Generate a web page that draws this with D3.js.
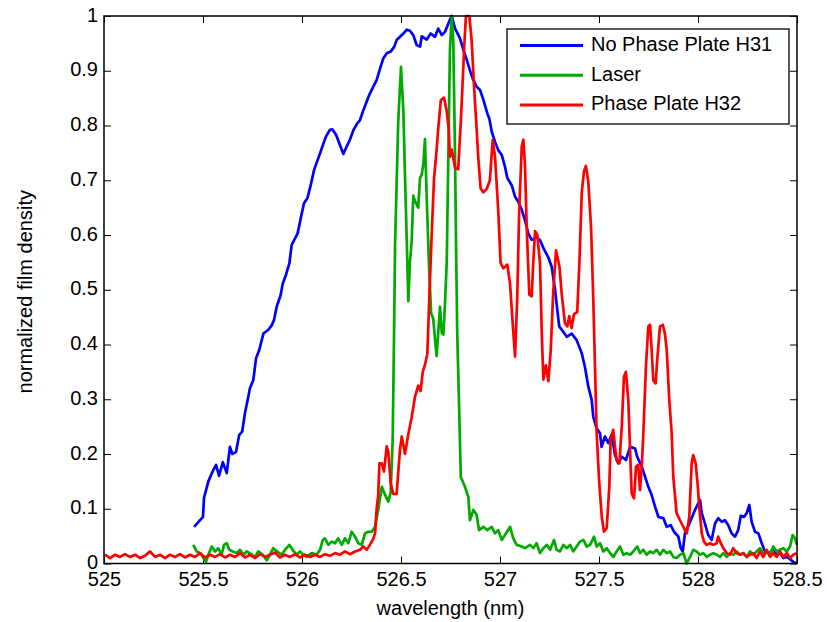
<!DOCTYPE html>
<html>
<head>
<meta charset="utf-8">
<script src="https://cdn.jsdelivr.net/npm/d3@7"></script>
<style>
	body { margin: 0; background: #fff; }
	svg { display: block; }
	.tick line { stroke: #000; stroke-width: 1; }
	.tick text { font-family: "Liberation Sans", Arial, Helvetica, sans-serif; font-size: 20px; fill: #000; }
	.domain { display: none; }
	.label, .legend text { font-family: "Liberation Sans", Arial, Helvetica, sans-serif; font-size: 20px; fill: #000; }
</style>
</head>
<body>
<div id="chart"></div>
<script>

var seriesNames = ['No Phase Plate H31', 'Laser', 'Phase Plate H32'];
var seriesColors = ['#0000ff', '#00aa00', '#ff0000'];

var xTicks = [525, 525.5, 526, 526.5, 527, 527.5, 528, 528.5];
var yTicks = [0, 0.1, 0.2, 0.3, 0.4, 0.5, 0.6, 0.7, 0.8, 0.9, 1];

// [wavelength (nm), normalized film density]
var noPlateH31 = [
	[525.455,0.067],[525.475,0.075],[525.5,0.085],[525.505,0.12],[525.527,0.15],[525.551,0.17],[525.566,0.18],[525.581,0.16],
	[525.6,0.185],[525.62,0.165],[525.636,0.213],[525.648,0.2],[525.667,0.204],[525.683,0.235],[525.698,0.241],[525.712,0.275],
	[525.729,0.305],[525.737,0.32],[525.754,0.335],[525.768,0.375],[525.784,0.39],[525.805,0.42],[525.83,0.427],[525.847,0.435],
	[525.859,0.445],[525.872,0.469],[525.892,0.49],[525.903,0.512],[525.919,0.527],[525.936,0.548],[525.948,0.582],[525.965,0.594],
	[525.978,0.603],[525.995,0.633],[526.01,0.658],[526.027,0.667],[526.044,0.691],[526.061,0.719],[526.082,0.74],[526.094,0.752],
	[526.108,0.767],[526.121,0.78],[526.141,0.792],[526.153,0.793],[526.172,0.783],[526.195,0.761],[526.209,0.748],[526.226,0.762],
	[526.242,0.774],[526.259,0.791],[526.279,0.804],[526.293,0.81],[526.31,0.828],[526.323,0.84],[526.34,0.856],[526.36,0.871],
	[526.377,0.883],[526.394,0.904],[526.411,0.923],[526.428,0.932],[526.448,0.935],[526.466,0.944],[526.478,0.956],[526.495,0.962],
	[526.512,0.968],[526.529,0.975],[526.545,0.973],[526.562,0.965],[526.579,0.947],[526.596,0.944],[526.605,0.963],[526.63,0.957],
	[526.65,0.968],[526.672,0.962],[526.688,0.977],[526.706,0.965],[526.722,0.971],[526.747,0.993],[526.756,1.0],[526.773,0.977],
	[526.798,0.959],[526.815,0.938],[526.832,0.92],[526.848,0.901],[526.862,0.886],[526.882,0.871],[526.899,0.865],[526.916,0.847],
	[526.936,0.822],[526.946,0.813],[526.958,0.789],[526.975,0.77],[526.991,0.755],[527.009,0.746],[527.025,0.725],[527.037,0.704],
	[527.059,0.691],[527.076,0.67],[527.092,0.661],[527.11,0.646],[527.126,0.627],[527.143,0.603],[527.16,0.591],[527.185,0.596],
	[527.202,0.591],[527.222,0.574],[527.244,0.559],[527.261,0.542],[527.278,0.5],[527.299,0.433],[527.32,0.423],[527.337,0.414],
	[527.362,0.42],[527.387,0.408],[527.413,0.384],[527.429,0.359],[527.446,0.323],[527.463,0.299],[527.471,0.268],[527.488,0.247],
	[527.505,0.238],[527.513,0.213],[527.53,0.232],[527.547,0.22],[527.564,0.235],[527.581,0.198],[527.597,0.183],[527.615,0.195],
	[527.636,0.189],[527.657,0.213],[527.682,0.21],[527.693,0.195],[527.716,0.177],[527.732,0.159],[527.749,0.14],[527.766,0.125],
	[527.783,0.104],[527.8,0.085],[527.825,0.083],[527.842,0.067],[527.862,0.07],[527.879,0.058],[527.901,0.049],[527.913,0.028],
	[527.923,0.022],[527.934,0.055],[527.96,0.076],[527.985,0.098],[528.01,0.116],[528.019,0.092],[528.035,0.073],[528.052,0.052],
	[528.069,0.043],[528.086,0.073],[528.102,0.083],[528.12,0.076],[528.136,0.079],[528.153,0.07],[528.17,0.055],[528.187,0.049],
	[528.203,0.061],[528.216,0.087],[528.232,0.085],[528.246,0.092],[528.259,0.107],[528.271,0.076],[528.288,0.058],[528.305,0.055],
	[528.322,0.037],[528.338,0.022],[528.364,0.019],[528.38,0.028],[528.397,0.016],[528.414,0.019],[528.431,0.01],[528.448,0.012],
	[528.465,0.008],[528.481,0.003],[528.498,0.0]
];

var laser = [
	[525.451,0.034],[525.468,0.022],[525.485,0.019],[525.502,0.01],[525.515,0.003],[525.527,0.016],[525.544,0.031],[525.561,0.022],
	[525.577,0.028],[525.594,0.016],[525.606,0.034],[525.62,0.037],[525.633,0.025],[525.65,0.022],[525.67,0.019],[525.687,0.025],
	[525.704,0.016],[525.721,0.022],[525.746,0.016],[525.763,0.012],[525.779,0.022],[525.802,0.016],[525.822,0.006],[525.838,0.016],
	[525.855,0.028],[525.875,0.022],[525.897,0.016],[525.914,0.025],[525.936,0.034],[525.953,0.025],[525.973,0.016],[525.99,0.022],
	[526.007,0.016],[526.024,0.012],[526.049,0.019],[526.074,0.016],[526.091,0.025],[526.105,0.043],[526.116,0.046],[526.133,0.034],
	[526.15,0.04],[526.167,0.037],[526.183,0.046],[526.201,0.034],[526.217,0.046],[526.234,0.037],[526.251,0.058],[526.268,0.049],
	[526.284,0.037],[526.302,0.034],[526.318,0.055],[526.335,0.058],[526.352,0.058],[526.369,0.067],[526.385,0.098],[526.403,0.14],
	[526.414,0.13],[526.436,0.113],[526.448,0.13],[526.458,0.228],[526.465,0.421],[526.47,0.582],[526.486,0.807],[526.5,0.907],
	[526.512,0.826],[526.52,0.711],[526.532,0.55],[526.537,0.479],[526.545,0.55],[526.554,0.588],[526.562,0.672],[526.571,0.662],
	[526.587,0.65],[526.596,0.704],[526.605,0.711],[526.613,0.73],[526.621,0.775],[526.63,0.666],[526.641,0.55],[526.652,0.457],
	[526.663,0.447],[526.672,0.408],[526.68,0.379],[526.688,0.421],[526.697,0.469],[526.706,0.421],[526.714,0.418],[526.722,0.473],
	[526.731,0.55],[526.739,0.743],[526.747,0.936],[526.756,1.0],[526.764,0.955],[526.773,0.743],[526.778,0.582],[526.784,0.421],
	[526.793,0.293],[526.802,0.158],[526.823,0.14],[526.84,0.122],[526.848,0.079],[526.865,0.098],[526.882,0.089],[526.894,0.061],
	[526.916,0.067],[526.936,0.061],[526.958,0.067],[526.975,0.055],[526.991,0.061],[527.009,0.043],[527.025,0.052],[527.051,0.067],
	[527.067,0.046],[527.084,0.034],[527.11,0.031],[527.126,0.028],[527.152,0.034],[527.168,0.028],[527.185,0.037],[527.202,0.019],
	[527.219,0.028],[527.236,0.034],[527.253,0.025],[527.273,0.043],[527.286,0.025],[527.303,0.022],[527.32,0.034],[527.337,0.028],
	[527.354,0.034],[527.37,0.022],[527.387,0.031],[527.404,0.04],[527.421,0.043],[527.438,0.031],[527.455,0.034],[527.475,0.049],
	[527.488,0.031],[527.505,0.037],[527.522,0.022],[527.539,0.028],[527.556,0.019],[527.572,0.012],[527.589,0.022],[527.606,0.031],
	[527.623,0.016],[527.64,0.019],[527.657,0.016],[527.673,0.022],[527.693,0.031],[527.707,0.019],[527.724,0.025],[527.741,0.016],
	[527.758,0.022],[527.774,0.019],[527.791,0.025],[527.808,0.016],[527.825,0.025],[527.842,0.019],[527.859,0.022],[527.875,0.012],
	[527.892,0.01],[527.909,0.016],[527.926,0.019],[527.943,0.0],[527.96,0.012],[527.976,0.025],[527.993,0.022],[528.01,0.016],
	[528.027,0.019],[528.044,0.012],[528.061,0.016],[528.077,0.019],[528.094,0.016],[528.111,0.012],[528.128,0.019],[528.145,0.012],
	[528.162,0.019],[528.178,0.016],[528.195,0.022],[528.212,0.016],[528.229,0.019],[528.246,0.012],[528.263,0.022],[528.279,0.016],
	[528.296,0.022],[528.313,0.028],[528.33,0.019],[528.347,0.022],[528.364,0.016],[528.38,0.031],[528.397,0.022],[528.414,0.025],
	[528.431,0.028],[528.448,0.022],[528.465,0.031],[528.478,0.052],[528.49,0.046],[528.5,0.034]
];

var plateH32 = [
	[525.005,0.016],[525.03,0.01],[525.056,0.016],[525.081,0.012],[525.106,0.017],[525.131,0.012],[525.157,0.016],[525.182,0.01],
	[525.207,0.014],[525.232,0.022],[525.258,0.012],[525.283,0.016],[525.308,0.01],[525.333,0.016],[525.359,0.012],[525.384,0.017],
	[525.409,0.011],[525.434,0.016],[525.46,0.012],[525.485,0.019],[525.51,0.011],[525.535,0.016],[525.561,0.012],[525.586,0.017],
	[525.611,0.011],[525.636,0.016],[525.662,0.012],[525.687,0.019],[525.712,0.011],[525.737,0.016],[525.763,0.01],[525.788,0.017],
	[525.813,0.012],[525.838,0.016],[525.864,0.02],[525.889,0.011],[525.914,0.016],[525.939,0.012],[525.965,0.017],[525.99,0.011],
	[526.015,0.016],[526.04,0.012],[526.066,0.016],[526.091,0.012],[526.116,0.017],[526.141,0.014],[526.167,0.019],[526.192,0.016],
	[526.217,0.022],[526.242,0.017],[526.268,0.022],[526.293,0.025],[526.31,0.031],[526.327,0.025],[526.343,0.034],[526.36,0.045],
	[526.369,0.055],[526.377,0.1],[526.385,0.125],[526.391,0.183],[526.403,0.183],[526.414,0.168],[526.428,0.214],[526.436,0.204],
	[526.448,0.146],[526.461,0.127],[526.478,0.127],[526.495,0.209],[526.504,0.232],[526.52,0.2],[526.537,0.236],[526.554,0.267],
	[526.571,0.305],[526.587,0.325],[526.599,0.315],[526.61,0.35],[526.621,0.363],[526.633,0.383],[526.643,0.486],[526.655,0.601],
	[526.667,0.704],[526.68,0.756],[526.688,0.794],[526.701,0.846],[526.717,0.851],[526.731,0.826],[526.741,0.794],[526.747,0.743],
	[526.756,0.756],[526.773,0.723],[526.789,0.72],[526.802,0.807],[526.812,0.884],[526.82,0.949],[526.828,1.0],[526.845,1.0],
	[526.857,0.955],[526.869,0.871],[526.882,0.794],[526.89,0.743],[526.902,0.685],[526.916,0.678],[526.933,0.684],[526.949,0.7],
	[526.963,0.774],[526.975,0.742],[526.991,0.646],[527.003,0.549],[527.017,0.539],[527.037,0.546],[527.051,0.51],[527.064,0.439],
	[527.076,0.378],[527.087,0.485],[527.097,0.646],[527.11,0.762],[527.118,0.774],[527.126,0.729],[527.135,0.613],[527.148,0.491],
	[527.16,0.488],[527.168,0.549],[527.177,0.607],[527.188,0.601],[527.202,0.549],[527.211,0.42],[527.219,0.336],[527.232,0.362],
	[527.244,0.333],[527.256,0.388],[527.269,0.497],[527.283,0.572],[527.3,0.543],[527.312,0.491],[527.328,0.439],[527.34,0.433],
	[527.35,0.452],[527.362,0.43],[527.374,0.456],[527.39,0.459],[527.401,0.549],[527.413,0.678],[527.424,0.716],[527.434,0.726],
	[527.446,0.697],[527.46,0.613],[527.471,0.485],[527.48,0.356],[527.488,0.24],[527.501,0.149],[527.514,0.085],[527.525,0.058],
	[527.539,0.065],[527.552,0.14],[527.559,0.226],[527.572,0.244],[527.581,0.213],[527.589,0.189],[527.603,0.183],[527.615,0.25],
	[527.626,0.341],[527.636,0.35],[527.648,0.299],[527.657,0.207],[527.665,0.128],[527.677,0.119],[527.687,0.177],[527.698,0.18],
	[527.707,0.134],[527.716,0.177],[527.724,0.238],[527.737,0.359],[527.749,0.433],[527.758,0.436],[527.766,0.39],[527.774,0.335],
	[527.786,0.329],[527.794,0.372],[527.808,0.433],[527.822,0.436],[527.833,0.42],[527.842,0.39],[527.855,0.299],[527.867,0.238],
	[527.875,0.159],[527.892,0.092],[527.909,0.079],[527.926,0.067],[527.943,0.055],[527.956,0.085],[527.968,0.183],[527.976,0.198],
	[527.988,0.183],[527.998,0.146],[528.006,0.104],[528.019,0.055],[528.03,0.04],[528.044,0.034],[528.061,0.037],[528.077,0.034],
	[528.094,0.037],[528.102,0.049],[528.115,0.037],[528.128,0.028],[528.145,0.019],[528.162,0.016],[528.178,0.028],[528.195,0.019],
	[528.212,0.016],[528.229,0.019],[528.246,0.012],[528.263,0.016],[528.279,0.019],[528.296,0.01],[528.313,0.022],[528.33,0.012],
	[528.347,0.025],[528.364,0.012],[528.38,0.019],[528.397,0.012],[528.414,0.022],[528.431,0.012],[528.448,0.019],[528.465,0.01],
	[528.481,0.016],[528.498,0.019]
];

var series = [noPlateH31, laser, plateH32];

var width = 827, height = 622;
var margin = {top: 16, right: 30, bottom: 58.5, left: 104};
var innerW = width - margin.left - margin.right;
var innerH = height - margin.top - margin.bottom;

var svg = d3.select('#chart').append('svg')
	.attr('width', width)
	.attr('height', height);

svg.append('rect')
	.attr('width', width)
	.attr('height', height)
	.attr('fill', '#fff');

var g = svg.append('g')
	.attr('transform', 'translate(' + margin.left + ',' + margin.top + ')');

var x = d3.scaleLinear()
	.domain([525, 528.5])
	.range([0, innerW]);

var y = d3.scaleLinear()
	.domain([0, 1])
	.range([innerH, 0]);

// inward ticks on all four sides, like a boxed plot
g.append('g')
	.attr('class', 'x axis')
	.attr('transform', 'translate(0,' + innerH + ')')
	.call(d3.axisBottom(x).tickValues(xTicks).tickSize(-7).tickPadding(8).tickFormat(d3.format('')));

g.append('g')
	.attr('class', 'x axis top')
	.call(d3.axisTop(x).tickValues(xTicks).tickSize(-7).tickFormat(''));

g.append('g')
	.attr('class', 'y axis')
	.call(d3.axisLeft(y).tickValues(yTicks).tickSize(-7).tickPadding(6).tickFormat(d3.format('')))
	.selectAll('text')
	.attr('dy', '0.25em');

g.append('g')
	.attr('class', 'y axis right')
	.attr('transform', 'translate(' + innerW + ',0)')
	.call(d3.axisRight(y).tickValues(yTicks).tickSize(-7).tickFormat(''));

var line = d3.line()
	.x(function(d) { return x(d[0]); })
	.y(function(d) { return y(d[1]); });

series.forEach(function(s, i) {
	g.append('path')
		.datum(s)
		.attr('fill', 'none')
		.attr('stroke', seriesColors[i])
		.attr('stroke-width', 2.7)
		.attr('stroke-linejoin', 'round')
		.attr('d', line);
});

// box
g.append('rect')
	.attr('width', innerW)
	.attr('height', innerH)
	.attr('fill', 'none')
	.attr('stroke', '#000')
	.attr('stroke-width', 1.5);

// axis labels
svg.append('text')
	.attr('class', 'label')
	.attr('text-anchor', 'middle')
	.attr('x', margin.left + innerW / 2)
	.attr('y', 615)
	.text('wavelength (nm)');

svg.append('text')
	.attr('class', 'label')
	.attr('text-anchor', 'middle')
	.attr('transform', 'translate(32,' + (margin.top + innerH / 2 + 2) + ') rotate(-90)')
	.text('normalized film density');

// legend
var legend = svg.append('g')
	.attr('class', 'legend')
	.attr('transform', 'translate(507,29)');

legend.append('rect')
	.attr('width', 282)
	.attr('height', 95)
	.attr('fill', '#fff')
	.attr('stroke', '#000')
	.attr('stroke-width', 1.3);

seriesNames.forEach(function(name, i) {
	var ly = 16.5 + i * 29.7;
	legend.append('line')
		.attr('x1', 13)
		.attr('x2', 76)
		.attr('y1', ly)
		.attr('y2', ly)
		.attr('stroke', seriesColors[i])
		.attr('stroke-width', 3);
	legend.append('text')
		.attr('x', 84)
		.attr('y', ly + 5.5)
		.text(name);
});

</script>
</body>
</html>
